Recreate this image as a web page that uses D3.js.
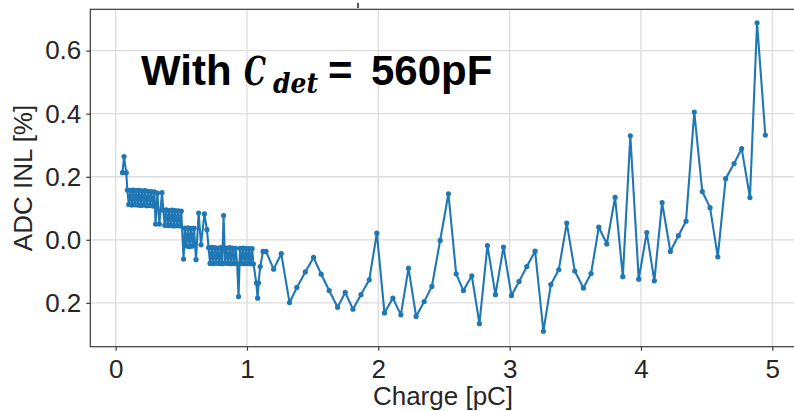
<!DOCTYPE html>
<html>
<head>
<meta charset="utf-8">
<script src="https://cdn.jsdelivr.net/npm/d3@7"></script>
<style>
  html, body { margin: 0; padding: 0; background: #fff; }
  svg { display: block; }
</style>
</head>
<body>
<div id="chart"></div>
<script>
// Charge injected [pC] and the corresponding ADC integral non-linearity [%]
const charge = [
  0.052, 0.064, 0.081,
  0.089, 0.100, 0.112, 0.123, 0.135, 0.146, 0.157, 0.169, 0.180, 0.192,
  0.203, 0.215, 0.226, 0.237, 0.249, 0.260, 0.272, 0.283, 0.295,
  0.304, 0.318, 0.333, 0.353,
  0.363, 0.374, 0.386, 0.397, 0.409, 0.420, 0.432, 0.443, 0.454, 0.466,
  0.477, 0.489, 0.500,
  0.517,
  0.528, 0.540, 0.551, 0.563, 0.574, 0.586, 0.597,
  0.612, 0.632, 0.650, 0.676, 0.695,
  0.708, 0.719, 0.731, 0.742, 0.754, 0.765, 0.776, 0.788, 0.799, 0.811,
  0.822, 0.833, 0.845, 0.856, 0.868, 0.879, 0.890, 0.902, 0.913, 0.925,
  0.936, 0.947, 0.959, 0.970, 0.982, 0.993, 1.005, 1.016, 1.027, 1.039,
  1.050,
  1.071, 1.081, 1.088, 1.101, 1.122, 1.145,
  1.203, 1.261, 1.324, 1.380, 1.444, 1.507, 1.565, 1.626, 1.690, 1.748,
  1.807, 1.868, 1.931, 1.989, 2.047, 2.111, 2.172, 2.230, 2.288, 2.349,
  2.408, 2.471, 2.534, 2.593, 2.648, 2.712, 2.770, 2.831, 2.892, 2.953,
  3.014, 3.072, 3.131, 3.194, 3.257, 3.314, 3.374, 3.435, 3.496, 3.562,
  3.620, 3.679, 3.740, 3.803, 3.862, 3.919, 3.983, 4.044, 4.102, 4.161,
  4.224, 4.285, 4.343, 4.406, 4.467, 4.526, 4.585, 4.645, 4.709, 4.767,
  4.830, 4.884, 4.947
];

const inl = [
  0.213, 0.264, 0.213,
  0.158, 0.112, 0.157, 0.110, 0.158, 0.111, 0.156, 0.110, 0.157, 0.109,
  0.155, 0.110, 0.156, 0.108, 0.154, 0.109, 0.153, 0.107, 0.152,
  0.050, 0.148, 0.050, 0.150,
  0.094, 0.046, 0.095, 0.045, 0.093, 0.046, 0.094, 0.044, 0.093, 0.045,
  0.092, 0.044, 0.091,
  -0.061,
  0.037, -0.020, 0.038, -0.022, 0.036, -0.020, 0.037,
  -0.063, 0.085, -0.016, 0.082, 0.032,
  -0.025, -0.075, -0.024, -0.076, -0.025, -0.074, -0.026, -0.075, -0.025, -0.076,
  0.077, -0.074, -0.026, -0.075, -0.025, -0.076, -0.026, -0.075, -0.027, -0.076,
  -0.180, -0.027, -0.075, -0.026, -0.076, -0.027, -0.075, -0.028, -0.076, -0.028,
  -0.077,
  -0.137, -0.185, -0.137, -0.085, -0.037, -0.037,
  -0.093, -0.044, -0.199, -0.151, -0.102, -0.056, -0.109, -0.161, -0.214, -0.167,
  -0.220, -0.174, -0.127, 0.021, -0.232, -0.185, -0.238, -0.090, -0.243, -0.196,
  -0.148, -0.002, 0.146, -0.108, -0.161, -0.114, -0.266, -0.018, -0.174, -0.023,
  -0.177, -0.132, -0.085, -0.036, -0.290, -0.142, -0.095, 0.053, -0.099, -0.153,
  -0.107, 0.040, -0.013, 0.135, -0.117, 0.330, -0.125, 0.023, -0.130, 0.118,
  -0.037, 0.013, 0.059, 0.405, 0.153, 0.102, -0.054, 0.194, 0.242, 0.289,
  0.134, 0.688, 0.332
];

const xTicks = [0, 1, 2, 3, 4, 5];
const xTickLabels = ["0", "1", "2", "3", "4", "5"];
const yTicks = [0.6, 0.4, 0.2, 0.0, -0.2];
const yTickLabels = ["0.6", "0.4", "0.2", "0.0", "0.2"];

const xTitle = "Charge [pC]";
const yTitle = "ADC INL [%]";

const W = 794, H = 411;
const plot = { left: 90.3, right: 797.5, top: 9.3, bottom: 346.7 };
const lineColor = "#1f77b4";
const textColor = "#262626";
const sans = "'Liberation Sans', Arial, sans-serif";
const serif = "'DejaVu Serif', serif";

const svg = d3.select("#chart").append("svg")
  .attr("width", W).attr("height", H)
  .attr("viewBox", `0 0 ${W} ${H}`);

const x = d3.scaleLinear().domain([-0.193, 5.192]).range([plot.left, plot.right]);
const y = d3.scaleLinear().domain([-0.339, 0.731]).range([plot.bottom, plot.top]);

// grid
const grid = svg.append("g").attr("stroke", "#dcdcdc").attr("stroke-width", 1.3);
grid.selectAll("line.vx").data(xTicks).join("line")
  .attr("x1", d => x(d)).attr("x2", d => x(d))
  .attr("y1", plot.top).attr("y2", plot.bottom);
grid.selectAll("line.hy").data(yTicks).join("line")
  .attr("x1", plot.left).attr("x2", plot.right)
  .attr("y1", d => y(d)).attr("y2", d => y(d));

// data series
const pts = charge.map((c, i) => [c, inl[i]]);
svg.append("clipPath").attr("id", "plotClip").append("rect")
  .attr("x", plot.left).attr("y", plot.top)
  .attr("width", plot.right - plot.left).attr("height", plot.bottom - plot.top);

const series = svg.append("g").attr("clip-path", "url(#plotClip)");
series.append("path")
  .datum(pts)
  .attr("fill", "none")
  .attr("stroke", lineColor)
  .attr("stroke-width", 2.1)
  .attr("stroke-linejoin", "round")
  .attr("d", d3.line().x(d => x(d[0])).y(d => y(d[1])));
series.selectAll("circle").data(pts).join("circle")
  .attr("cx", d => x(d[0])).attr("cy", d => y(d[1]))
  .attr("r", 2.6).attr("fill", lineColor);

// frame
svg.append("rect")
  .attr("x", plot.left).attr("y", plot.top)
  .attr("width", plot.right - plot.left).attr("height", plot.bottom - plot.top)
  .attr("fill", "none").attr("stroke", "#3a3a3a").attr("stroke-width", 1.2);

// axes
const xAxis = d3.axisBottom(x).tickValues(xTicks)
  .tickFormat((d, i) => xTickLabels[i]).tickSize(4).tickSizeOuter(0).tickPadding(8.5);
const yAxis = d3.axisLeft(y).tickValues(yTicks)
  .tickFormat((d, i) => yTickLabels[i]).tickSize(4).tickSizeOuter(0).tickPadding(5);

const gx = svg.append("g").attr("transform", `translate(0,${plot.bottom})`).call(xAxis);
const gy = svg.append("g").attr("transform", `translate(${plot.left},0)`).call(yAxis);
[gx, gy].forEach(g => {
  g.select(".domain").remove();
  g.selectAll(".tick line").attr("stroke", "#3a3a3a").attr("stroke-width", 1.2);
  g.selectAll(".tick text")
    .attr("fill", textColor)
    .style("font-family", sans)
    .style("font-size", "26px");
});

// axis titles
svg.append("text")
  .attr("x", 443).attr("y", 405)
  .attr("text-anchor", "middle")
  .attr("fill", textColor)
  .style("font-family", sans).style("font-size", "26px")
  .text(xTitle);

svg.append("text")
  .attr("transform", "translate(32,178) rotate(-90)")
  .attr("text-anchor", "middle")
  .attr("fill", textColor)
  .style("font-family", sans).style("font-size", "26px")
  .text(yTitle);

// annotation: detector capacitance, C with subscript "det"
const note = svg.append("text")
  .attr("y", 85).attr("fill", "#000")
  .style("font-family", sans).style("font-size", "42px").style("font-weight", "bold");
note.append("tspan").attr("x", 141).text("With");
note.append("tspan").attr("x", 244)
  .style("font-family", serif).style("font-style", "italic")
  .style("font-weight", "bold").style("font-size", "40px")
  .attr("textLength", 22).attr("lengthAdjust", "spacingAndGlyphs")
  .text("C");
note.append("tspan").attr("x", 273).attr("dy", 8)
  .style("font-family", serif).style("font-style", "italic")
  .style("font-weight", "bold").style("font-size", "27px")
  .attr("textLength", 45).attr("lengthAdjust", "spacingAndGlyphs")
  .text("det");
note.append("tspan").attr("x", 328).attr("dy", -8).text("=");
note.append("tspan").attr("x", 371).text("560pF");

// small mark above the frame
svg.append("line")
  .attr("x1", 358).attr("x2", 358).attr("y1", 3).attr("y2", 8)
  .attr("stroke", "#222").attr("stroke-width", 1.5);
</script>
</body>
</html>
